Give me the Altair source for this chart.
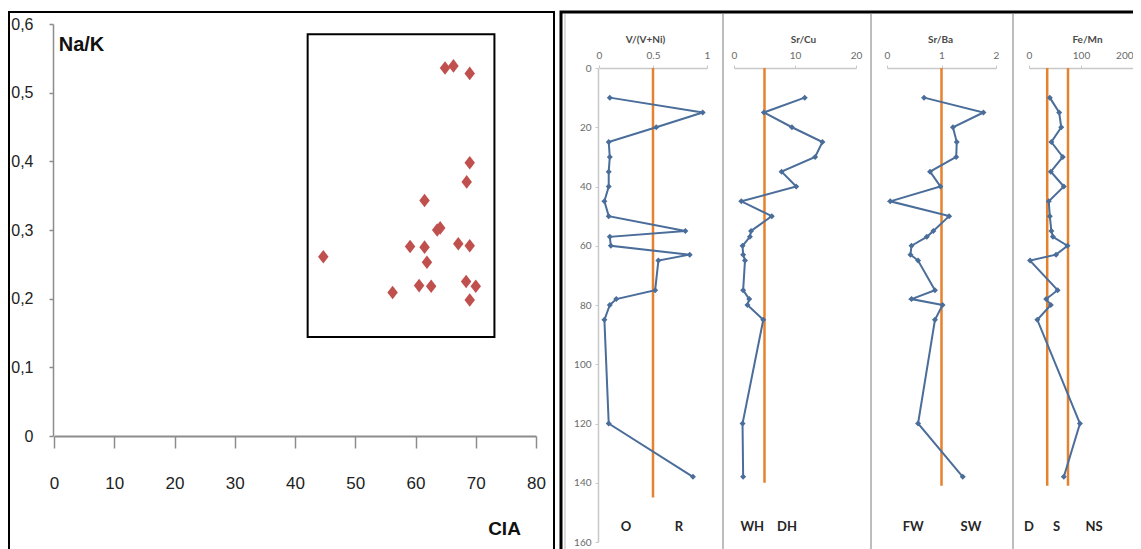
import altair as alt
import pandas as pd

# ---------------- data ----------------
CIA = [44.7, 56.2, 59.1, 60.6, 61.5, 61.5, 61.9, 62.6, 63.6, 64.1,
       64.9, 66.3, 69.0, 67.1, 69.0, 68.5, 69.0, 68.4, 70.0, 69.0]
NAK = [0.261, 0.209, 0.276, 0.219, 0.343, 0.275, 0.253, 0.218, 0.300, 0.303,
       0.536, 0.539, 0.528, 0.280, 0.398, 0.370, 0.277, 0.225, 0.218, 0.198]
INSET_CIA = [42.1, 73.1]
INSET_NAK = [0.144, 0.585]
CIA_TICKS = [0, 10, 20, 30, 40, 50, 60, 70, 80]
NAK_TICKS = [0, 0.1, 0.2, 0.3, 0.4, 0.5, 0.6]

DEPTH = [10, 15, 20, 25, 30, 35, 40, 45, 50, 55, 57, 60, 63, 65, 75, 78, 80, 85, 120, 138]
V_VNI = [0.10, 0.96, 0.53, 0.09, 0.10, 0.09, 0.09, 0.05, 0.09, 0.80,
         0.10, 0.11, 0.84, 0.55, 0.52, 0.16, 0.10, 0.05, 0.09, 0.87]
SR_CU = [11.6, 4.9, 9.5, 14.5, 13.3, 7.8, 10.2, 1.2, 6.2, 2.8,
         2.6, 1.4, 1.5, 1.8, 1.5, 2.5, 2.2, 4.8, 1.4, 1.5]
SR_BA = [0.68, 1.77, 1.21, 1.28, 1.27, 0.79, 0.98, 0.06, 1.14, 0.85,
         0.73, 0.45, 0.43, 0.57, 0.88, 0.45, 1.02, 0.88, 0.57, 1.39]
FE_MN = [40, 58, 62, 43, 65, 42, 67, 38, 40, 43,
         46, 74, 52, 2, 55, 33, 42, 16, 98, 67]
DEPTH_TICKS = [0, 20, 40, 60, 80, 100, 120, 140, 160]

V_THRESH = [0.5]
SRCU_THRESH = [5]
SRBA_THRESH = [1]
FEMN_THRESH = [35, 75]
THRESH_END = [145, 140, 141, 141]

V_ZONES, V_ZONE_AT = ["O", "R"], [0.25, 0.74]
SRCU_ZONES, SRCU_ZONE_AT = ["WH", "DH"], [3.0, 8.7]
SRBA_ZONES, SRBA_ZONE_AT = ["FW", "SW"], [0.48, 1.54]
FEMN_ZONES, FEMN_ZONE_AT = ["D", "S", "NS"], [0, 53, 125]
ZONE_DEPTH = 155

# ---------------- layout helpers (page pixel -> plot pixel) ----------------
M = 8
W, H = 1141 - 2 * M, 549 - M


def px(v):
    return v - M


SANS = "Liberation Sans, Arial, sans-serif"
XL = "Lato, Open Sans, sans-serif"
BLUE = "#4a6d9a"
ORANGE = "#e6822e"

# ---------------- left scatter ----------------
xs_left = alt.Scale(domain=[0, 80], range=[px(54), px(536)], nice=False, zero=False)
ys_left = alt.Scale(domain=[0, 0.6], range=[px(436), px(24)], nice=False, zero=False)

ax_left_x = alt.Axis(orient="bottom", offset=-(H - px(436)), values=CIA_TICKS, grid=False,
                     domainColor="#8c8c8c", domainWidth=2, tickColor="#8c8c8c", tickWidth=1.5,
                     tickSize=12, labelPadding=27, labelFont=SANS, labelFontSize=17,
                     labelColor="#222222", labelFlush=False, labelOverlap=False,
                     title="CIA", titleFont=SANS, titleFontSize=19, titleFontWeight="bold",
                     titleColor="#111111", titleX=px(504), titleY=92,
                     titleAlign="center", titleBaseline="middle")
ax_left_y = alt.Axis(orient="left", offset=-px(53), values=NAK_TICKS, grid=False,
                     domainColor="#8c8c8c", domainWidth=1.5, tickColor="#8c8c8c", tickWidth=1.5,
                     tickSize=4, labelPadding=16, labelFont=SANS, labelFontSize=16,
                     labelColor="#222222", labelFlush=False, labelOverlap=False,
                     labelExpr="datum.value == 0 ? '0' : replace(format(datum.value, '.1f'), '.', ',')",
                     title="Na/K", titleFont=SANS, titleFontSize=20, titleFontWeight="bold",
                     titleColor="#111111", titleAngle=0, titleX=px(81) - px(53), titleY=px(44),
                     titleAlign="center", titleBaseline="middle")

scatter_df = pd.DataFrame({"cia": CIA, "nak": NAK})
inset_df = pd.DataFrame({"x0": [INSET_CIA[0]], "x1": [INSET_CIA[1]],
                         "y0": [INSET_NAK[0]], "y1": [INSET_NAK[1]]})

inset = alt.Chart(inset_df).mark_rect(fillOpacity=0, stroke="black", strokeWidth=2).encode(
    x=alt.X("x0:Q", scale=xs_left, axis=ax_left_x),
    x2="x1:Q",
    y=alt.Y("y0:Q", scale=ys_left, axis=ax_left_y),
    y2="y1:Q",
)
points = alt.Chart(scatter_df).mark_point(
    shape="M0,-1.3L1,0L0,1.3L-1,0Z", filled=True, size=110, color="#c0504d", opacity=1
).encode(
    x=alt.X("cia:Q", scale=xs_left, axis=ax_left_x),
    y=alt.Y("nak:Q", scale=ys_left, axis=ax_left_y),
)
left = alt.layer(inset, points)

# ---------------- right tracks ----------------
ys_depth = alt.Scale(domain=[0, 160], range=[px(68), px(542)], nice=False, zero=False)


def track(values, xdom, xr, ticks, title, title_x, thresh, thr_end, zones, zone_at, show_depth,
          flush_last=False):
    xs = alt.Scale(domain=xdom, range=[px(xr[0]), px(xr[1])], nice=False, zero=False)
    extra = {}
    if flush_last:
        extra["labelAlign"] = {"condition": {"test": f"datum.value >= {xdom[1]}", "value": "right"},
                               "value": "center"}
    xa = alt.Axis(orient="top", offset=-px(68), values=ticks, grid=False, format="~r",
                  domainColor="#c8c8c8", domainWidth=1.5, tickColor="#c8c8c8", tickSize=3,
                  labelPadding=5, labelFont=XL, labelFontSize=10, labelColor="#6a6a6a",
                  labelFlush=False, labelOverlap=False,
                  title=title, titleFont=XL, titleFontSize=10, titleFontWeight="bold",
                  titleColor="#4a4a4a", titleX=px(title_x), titleY=px(39) - px(68),
                  titleAlign="center", titleBaseline="middle", **extra)
    if show_depth:
        ya = alt.Axis(orient="left", offset=-px(598), values=DEPTH_TICKS, grid=False,
                      domainColor="#c8c8c8", domainWidth=1.5, tickColor="#c8c8c8", tickSize=3,
                      labelPadding=4, labelFont=XL, labelFontSize=10, labelColor="#6a6a6a",
                      labelFlush=False, labelOverlap=False, title=None)
    else:
        ya = None
    df = pd.DataFrame({"depth": DEPTH, "v": values})
    thr_df = pd.DataFrame({"t": thresh, "d0": [0] * len(thresh), "d1": [thr_end] * len(thresh)})
    zone_df = pd.DataFrame({"label": zones, "at": zone_at, "d": [ZONE_DEPTH] * len(zones)})

    rule = alt.Chart(thr_df).mark_rule(color=ORANGE, strokeWidth=2.5).encode(
        x=alt.X("t:Q", scale=xs, axis=xa),
        y=alt.Y("d0:Q", scale=ys_depth, axis=ya),
        y2="d1:Q",
    )
    line = alt.Chart(df).mark_line(color=BLUE, strokeWidth=2).encode(
        x=alt.X("v:Q", scale=xs, axis=xa),
        y=alt.Y("depth:Q", scale=ys_depth, axis=ya),
        order="depth:Q",
    )
    pts = alt.Chart(df).mark_point(shape="diamond", filled=True, size=36, color=BLUE, opacity=1).encode(
        x=alt.X("v:Q", scale=xs, axis=xa),
        y=alt.Y("depth:Q", scale=ys_depth, axis=ya),
    )
    txt = alt.Chart(zone_df).mark_text(font=XL, fontSize=13, fontWeight="bold", color="#262626").encode(
        x=alt.X("at:Q", scale=xs, axis=xa),
        y=alt.Y("d:Q", scale=ys_depth, axis=ya),
        text="label:N",
    )
    return alt.layer(rule, line, pts, txt)


t1 = track(V_VNI, [0, 1], [599, 707], [0, 0.5, 1], "V/(V+Ni)", 645, V_THRESH, THRESH_END[0],
           V_ZONES, V_ZONE_AT, True)
t2 = track(SR_CU, [0, 20], [734, 856], [0, 10, 20], "Sr/Cu", 803, SRCU_THRESH, THRESH_END[1],
           SRCU_ZONES, SRCU_ZONE_AT, False)
t3 = track(SR_BA, [0, 2], [887, 996], [0, 1, 2], "Sr/Ba", 940, SRBA_THRESH, THRESH_END[2],
           SRBA_ZONES, SRBA_ZONE_AT, False)
t4 = track(FE_MN, [0, 200], [1029, 1133], [0, 100, 200], "Fe/Mn", 1087, FEMN_THRESH, THRESH_END[3],
           FEMN_ZONES, FEMN_ZONE_AT, False, flush_last=True)

# ---------------- frames (decoration) ----------------
one = pd.DataFrame({"a": [0]})
frame_left = alt.Chart(one).mark_rect(fillOpacity=0, stroke="black", strokeWidth=2).encode(
    x=alt.value(px(9)), x2=alt.value(px(554)), y=alt.value(px(12)), y2=alt.value(H + 10))
frame_right = alt.Chart(one).mark_rect(fillOpacity=0, stroke="black", strokeWidth=3).encode(
    x=alt.value(px(561)), x2=alt.value(W + 10), y=alt.value(px(12)), y2=alt.value(H + 10))


def sep(xp, color="#bdbdbd", w=2):
    return alt.Chart(one).mark_rule(color=color, strokeWidth=w).encode(
        x=alt.value(px(xp)), y=alt.value(px(14)), y2=alt.value(H))


chart = alt.layer(
    frame_left, frame_right, sep(565, "#d0d0d0", 1.5), sep(723), sep(871), sep(1013),
    left, t1, t2, t3, t4,
).resolve_scale(x="independent", y="independent").resolve_axis(
    x="independent", y="independent"
).properties(
    width=W, height=H, autosize=alt.AutoSizeParams(type="none"), padding=0
).configure_view(stroke=None).configure_axis(grid=False)

chart.save("out.html", embed_options={"renderer": "svg", "actions": False})
